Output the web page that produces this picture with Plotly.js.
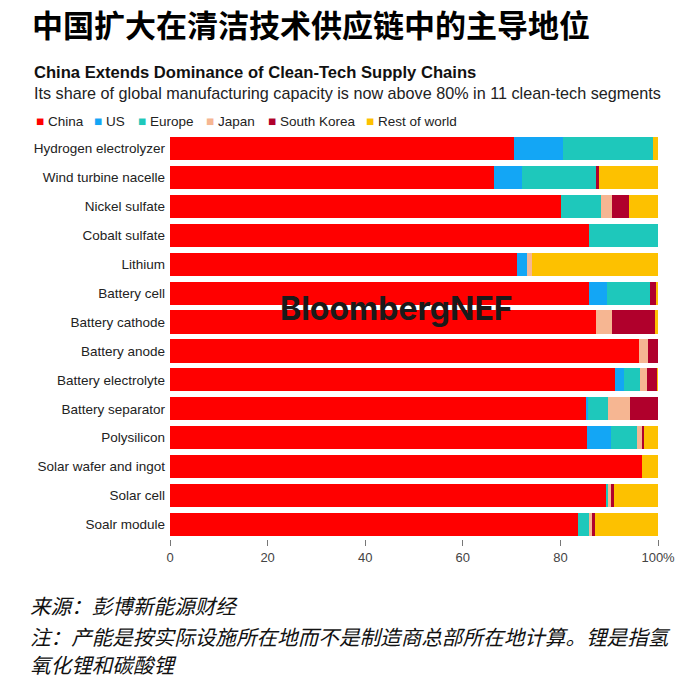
<!DOCTYPE html>
<html>
<head>
<meta charset="utf-8">
<script src="https://cdn.plot.ly/plotly-3.0.1.min.js"></script>
<style>html,body{margin:0;padding:0;background:#fff;}#chart{width:700px;height:689px;}</style>
</head>
<body>
<div id="chart"></div>
<script>
const categories = ["Hydrogen electrolyzer","Wind turbine nacelle","Nickel sulfate","Cobalt sulfate","Lithium","Battery cell","Battery cathode","Battery anode","Battery electrolyte","Battery separator","Polysilicon","Solar wafer and ingot","Solar cell","Soalr module"];
const china      = [70.4, 66.3, 80.1, 85.8, 71.1, 85.9, 87.2, 96.1, 91.2, 85.2, 85.5, 96.7, 89.3, 83.5];
const us         = [10.1,  5.9,  0,    0,    2.1,  3.6,  0,    0,    1.9,  0.5,  4.8,  0,    0,    0];
const europe     = [18.5, 15.1,  8.3, 14.2,  0,    8.8,  0,    0,    3.2,  4.1,  5.3,  0,    0.5,  2.4];
const japan      = [0,     0,    2.1,  0,    0.9,  0,    3.3,  1.9,  1.5,  4.4,  1.1,  0,    0.5,  0.5];
const southKorea = [0,     0.6,  3.5,  0,    0,    1.2,  8.8,  2.0,  1.9,  5.8,  0.5,  0,    0.7,  0.7];
const restOfWorld= [1.0,  12.1,  6.0,  0,   25.9,  0.5,  0.7,  0,    0.3,  0,    2.8,  3.3,  9.0, 12.9];
const seriesNames = ["China","US","Europe","Japan","South Korea","Rest of world"];
const seriesColors = ["#ff0000","#13a6f5","#1ec8bb","#f6b692","#b0002c","#fdc100"];
const tickVals = [0,20,40,60,80,100];
const tickText = ["0","20","40","60","80","100%"];

const seriesData = [china, us, europe, japan, southKorea, restOfWorld];
const traces = seriesData.map((vals,i)=>({
  type:'bar', orientation:'h', name:seriesNames[i], x:vals, y:categories,
  marker:{color:seriesColors[i], line:{width:0}}, hoverinfo:'skip', showlegend:false
}));

const font = "Liberation Sans, Arial, sans-serif";
const cjk = "Noto Sans CJK SC, sans-serif";
const L = 170, W = 490, T = 134, H = 405;
const px = v => (v - L) / W;
const py = v => (T + H - v) / H;

const annotations = [
  {text:"<b>中国扩大在清洁技术供应链中的主导地位</b>", x:px(30), y:py(24), font:{family:cjk,size:31,color:"#000"}},
  {text:"<b>China Extends Dominance of Clean-Tech Supply Chains</b>", x:px(32), y:py(72), font:{family:font,size:16.6,color:"#111"}},
  {text:"Its share of global manufacturing capacity is now above 80% in 11 clean-tech segments", x:px(32), y:py(93), font:{family:font,size:16.2,color:"#222"}},
  {text:"<i>来源：彭博新能源财经</i>", x:px(28), y:py(605), font:{family:cjk,size:20.6,color:"#111"}},
  {text:"<i>注：产能是按实际设施所在地而不是制造商总部所在地计算。锂是指氢</i>", x:px(28), y:py(636), font:{family:cjk,size:20.6,color:"#111"}},
  {text:"<i>氧化锂和碳酸锂</i>", x:px(28), y:py(664), font:{family:cjk,size:20.6,color:"#111"}},
  {text:"<b>BloombergNEF</b>", x:px(396), y:py(308), xanchor:'center', font:{family:"Inter, sans-serif",size:32,color:"#1a1a1a"}}
].map(a=>Object.assign({xref:'paper',yref:'paper',showarrow:false,xanchor:'left',yanchor:'middle'},a));

const legendX = [34, 92, 136, 204, 266, 364];
seriesNames.forEach((n,i)=>{
  annotations.push({xref:'paper',yref:'paper',showarrow:false,xanchor:'left',yanchor:'middle',
    x:px(legendX[i]), y:py(121),
    text:"<span style='color:"+seriesColors[i]+"'>■</span> "+n,
    font:{family:font,size:13.5,color:"#222"}});
});

const layout = {
  width:700, height:689,
  margin:{l:L, r:700-L-W, t:T, b:689-T-H, pad:0},
  paper_bgcolor:'#fff', plot_bgcolor:'#fff',
  barmode:'stack', bargap:0.2,
  showlegend:false,
  xaxis:{range:[0,100.4], tickvals:tickVals, ticktext:tickText, showgrid:false, zeroline:false,
    showline:false, ticks:'outside', ticklen:6, tickcolor:'#777', tickwidth:1,
    tickfont:{family:font,size:13,color:'#444'}, fixedrange:true},
  yaxis:{autorange:'reversed', showgrid:false, zeroline:false, showline:false, ticks:'',
    ticklabelstandoff:4, tickfont:{family:font,size:13.5,color:'#222'}, fixedrange:true},
  annotations:annotations
};
Plotly.newPlot('chart', traces, layout, {displayModeBar:false, staticPlot:true});
</script>
</body>
</html>
